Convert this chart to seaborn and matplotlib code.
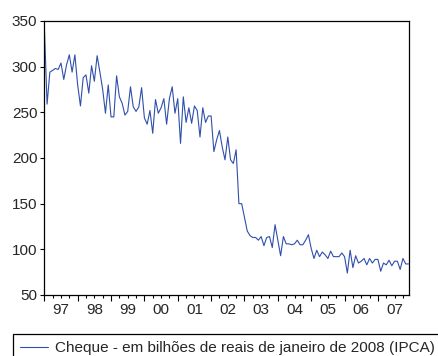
import numpy as np
import pandas as pd
import matplotlib
matplotlib.use("Agg")
import matplotlib.pyplot as plt
import seaborn as sns

# --- Data: monthly values, Jan 1997 .. Dec 2007 ---
start_year = 1997
cheque = [
    345, 259, 294, 296, 298, 297, 304, 286, 302, 313, 294, 313,   # 1997
    280, 257, 288, 291, 271, 301, 284, 312, 294, 275, 249, 280,   # 1998
    245, 245, 290, 267, 260, 247, 251, 278, 256, 251, 256, 277,   # 1999
    244, 237, 252, 227, 264, 249, 255, 265, 237, 265, 278, 249,   # 2000
    265, 216, 267, 239, 255, 238, 257, 252, 223, 255, 239, 246,   # 2001
    246, 207, 220, 230, 212, 198, 223, 198, 194, 209, 150, 150,   # 2002
    135, 120, 115, 113, 113, 110, 114, 104, 113, 114, 102, 127,   # 2003
    110, 93, 114, 106, 106, 105, 106, 110, 105, 105, 110, 116,    # 2004
    101, 90, 99, 92, 97, 94, 90, 98, 92, 92, 92, 96,              # 2005
    92, 74, 99, 80, 93, 85, 87, 90, 83, 90, 85, 89,               # 2006
    89, 76, 85, 83, 88, 82, 87, 87, 78, 90, 84, 84,               # 2007
]
year_labels = ['97', '98', '99', '00', '01', '02', '03', '04', '05', '06', '07']
legend_label = 'Cheque - em bilhões de reais de janeiro de 2008 (IPCA)'

t = start_year + np.arange(len(cheque)) / 12.0
df = pd.DataFrame({'t': t, 'valor': cheque})

# --- Style ---
sns.set_style("ticks")
plt.rcParams['font.family'] = ['Liberation Sans', 'DejaVu Sans']
plt.rcParams['font.size'] = 11

fig = plt.figure(figsize=(4.38, 3.56), dpi=100)
ax = fig.add_axes([44.3 / 438, 1 - 295 / 356, (408.5 - 44.3) / 438, (295 - 21) / 356])

sns.lineplot(data=df, x='t', y='valor', ax=ax, color='#2F4FAA', linewidth=0.8,
             label=legend_label)
ax.get_legend().remove()

ax.set_xlim(t[0], t[-1])
ax.set_ylim(50, 350)
ax.set_yticks(range(50, 351, 50))
ax.set_xlabel('')
ax.set_ylabel('')

# major ticks at year starts (no labels), quarterly minor ticks, labels mid-year
years = np.arange(start_year, start_year + 11)
ax.set_xticks(years)
ax.set_xticklabels([''] * len(years))
quarters = [y + q for y in years for q in (0.25, 0.5, 0.75) if y + q <= t[-1]]
qlabels = [year_labels[int(q) - start_year] if abs(q % 1 - 0.5) < 1e-6 else '' for q in quarters]
ax.set_xticks(quarters, minor=True)
ax.set_xticklabels(qlabels, minor=True)

ax.tick_params(axis='x', which='major', direction='out', length=4.5, width=0.8, color='black')
ax.tick_params(axis='x', which='minor', direction='out', length=2.5, width=0.8, color='black',
               labelsize=11, pad=3)
ax.tick_params(axis='y', which='major', direction='out', length=3, width=0.8, color='black',
               labelsize=11, pad=2)
for side in ['top', 'right', 'left', 'bottom']:
    ax.spines[side].set_visible(True)
    ax.spines[side].set_color('black')
    ax.spines[side].set_linewidth(0.9)

# legend box below the plot, running off the right and bottom edges
handle = plt.Line2D([], [], color='#2F4FAA', linewidth=0.8)
leg = fig.legend([handle], [legend_label], loc='upper left',
                 bbox_to_anchor=(13 / 438, 1 - 334 / 356, 1.0, 0), mode='expand',
                 borderaxespad=0, frameon=True, fancybox=False, edgecolor='black',
                 framealpha=1, handlelength=1.85, handletextpad=0.45, borderpad=0.45,
                 fontsize=11)
leg.get_frame().set_linewidth(0.9)

fig.savefig('out.png', dpi=100)
